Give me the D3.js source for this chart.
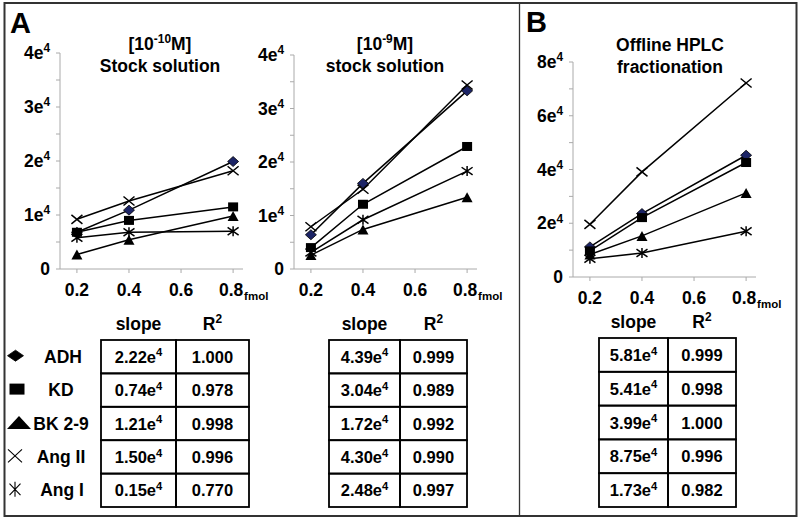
<!DOCTYPE html>
<html><head><meta charset="utf-8">
<script src="https://cdnjs.cloudflare.com/ajax/libs/d3/7.8.5/d3.min.js"></script>
<style>body{margin:0;background:#fff}svg{display:block}text{font-family:Arial,"Liberation Sans",sans-serif;font-weight:bold;fill:#000}</style>
</head><body>
<svg id="c" width="800" height="519"></svg>
<script>
// ---------- data ----------
const xValues = [0.2, 0.4, 0.8];
const xTicks = [0.2, 0.4, 0.6, 0.8];
const seriesNames = ["ADH", "KD", "BK 2-9", "Ang II", "Ang I"];
const seriesSymbols = ["diamond", "square", "triangle", "cross", "asterisk"];

// values in units of 1e4
const stock10ADH = [0.68, 1.09, 1.99];
const stock10KD = [0.68, 0.90, 1.15];
const stock10BK = [0.27, 0.54, 0.98];
const stock10AngII = [0.92, 1.26, 1.82];
const stock10AngI = [0.58, 0.68, 0.70];

const stock9ADH = [0.64, 1.60, 3.33];
const stock9KD = [0.40, 1.21, 2.29];
const stock9BK = [0.26, 0.74, 1.34];
const stock9AngII = [0.79, 1.49, 3.44];
const stock9AngI = [0.31, 0.92, 1.83];

const hplcADH = [1.12, 2.36, 4.53];
const hplcKD = [0.97, 2.21, 4.26];
const hplcBK = [0.84, 1.53, 3.13];
const hplcAngII = [1.96, 3.91, 7.22];
const hplcAngI = [0.68, 0.89, 1.70];

const ticksA = [0, 1, 2, 3, 4];
const ticksB = [0, 2, 4, 6, 8];

const slope10 = ["2.22", "0.74", "1.21", "1.50", "0.15"];
const r2_10 = ["1.000", "0.978", "0.998", "0.996", "0.770"];
const slope9 = ["4.39", "3.04", "1.72", "4.30", "2.48"];
const r2_9 = ["0.999", "0.989", "0.992", "0.990", "0.997"];
const slopeH = ["5.81", "5.41", "3.99", "8.75", "1.73"];
const r2_H = ["0.999", "0.998", "1.000", "0.996", "0.982"];

// ---------- drawing ----------
const svg = d3.select("#c");

svg.append("rect").attr("x", 4.5).attr("y", 3).attr("width", 792).attr("height", 513)
  .attr("fill", "none").attr("stroke", "#333").attr("stroke-width", 2);
svg.append("line").attr("x1", 519.5).attr("x2", 519.5).attr("y1", 3).attr("y2", 516)
  .attr("stroke", "#333").attr("stroke-width", 1.3);

svg.append("text").attr("x", 10).attr("y", 33).style("font-size", "29px").text("A");
svg.append("text").attr("x", 526).attr("y", 32).style("font-size", "29px").text("B");

function supText(g, base, sup, after, fs) {
  const t = g.append("text").style("font-size", fs + "px");
  t.append("tspan").text(base);
  t.append("tspan").attr("dy", -fs * 0.38).style("font-size", (fs * 0.68) + "px").text(sup);
  if (after) t.append("tspan").attr("dy", fs * 0.38).text(after);
  return t;
}

function symbol(g, type, cx, cy, w, h, fill, sw) {
  if (type === "diamond") {
    g.append("path").attr("d", `M${cx},${cy - h / 2}L${cx + w / 2},${cy}L${cx},${cy + h / 2}L${cx - w / 2},${cy}Z`)
      .attr("fill", fill).attr("stroke", "#000").attr("stroke-width", 0.8);
  } else if (type === "square") {
    g.append("rect").attr("x", cx - w / 2).attr("y", cy - h / 2).attr("width", w).attr("height", h).attr("fill", "#000");
  } else if (type === "triangle") {
    g.append("path").attr("d", `M${cx},${cy - h / 2}L${cx + w / 2},${cy + h / 2}L${cx - w / 2},${cy + h / 2}Z`).attr("fill", "#000");
  } else if (type === "cross") {
    g.append("path").attr("d", `M${cx - w / 2},${cy - h / 2}L${cx + w / 2},${cy + h / 2}M${cx - w / 2},${cy + h / 2}L${cx + w / 2},${cy - h / 2}`)
      .attr("stroke", "#000").attr("stroke-width", sw).attr("fill", "none");
  } else if (type === "asterisk") {
    g.append("path").attr("d", `M${cx - w / 2},${cy - h / 2.6}L${cx + w / 2},${cy + h / 2.6}M${cx - w / 2},${cy + h / 2.6}L${cx + w / 2},${cy - h / 2.6}M${cx},${cy - h / 2}L${cx},${cy + h / 2}`)
      .attr("stroke", "#000").attr("stroke-width", sw).attr("fill", "none");
  }
}

const markerW = {diamond: 11, square: 10, triangle: 11, cross: 11, asterisk: 11};
const markerH = {diamond: 10, square: 9, triangle: 10, cross: 9, asterisk: 10};

function chart(cfg) {
  const g = svg.append("g");
  const x = d3.scaleLinear().domain([0.135, 0.838]).range([cfg.left, cfg.left + 183]);
  const y = d3.scaleLinear().domain([0, cfg.ticks[cfg.ticks.length - 1]]).range([cfg.bottom, cfg.top]);
  const step = cfg.ticks[1] - cfg.ticks[0];
  const minor = d3.range(0, cfg.ticks[cfg.ticks.length - 1] + 1e-9, step / 2);
  g.append("line").attr("x1", cfg.left).attr("x2", cfg.left).attr("y1", y.range()[1]).attr("y2", y.range()[0])
    .attr("stroke", "#aaa").attr("stroke-width", 1);
  g.selectAll(".yt").data(minor).enter().append("line")
    .attr("x1", cfg.left - 4).attr("x2", cfg.left).attr("y1", d => y(d)).attr("y2", d => y(d))
    .attr("stroke", "#aaa");
  g.append("line").attr("x1", x.range()[0]).attr("x2", x.range()[1]).attr("y1", cfg.bottom).attr("y2", cfg.bottom)
    .attr("stroke", "#aaa");
  g.selectAll(".xt").data(xTicks).enter().append("line")
    .attr("x1", d => x(d)).attr("x2", d => x(d)).attr("y1", cfg.bottom).attr("y2", cfg.bottom + 4).attr("stroke", "#aaa");
  cfg.ticks.forEach(t => {
    let el;
    if (t === 0) el = g.append("text").style("font-size", "17.5px").text("0");
    else el = supText(g, t + "e", "4", null, 17.5);
    el.attr("x", cfg.left - 10).attr("y", y(t) + 6).attr("text-anchor", "end");
  });
  xTicks.forEach(t => {
    g.append("text").attr("x", x(t) - (t === 0.8 ? 2 : 0)).attr("y", cfg.bottom + 27).attr("text-anchor", "middle")
      .style("font-size", "17.5px").text(d3.format(".1f")(t));
    if (t === 0.8) {
      g.append("text").attr("x", x(t) + 11).attr("y", cfg.bottom + 31).style("font-size", "11.5px").text("fmol");
    }
  });
  const t1 = cfg.title1;
  if (Array.isArray(t1)) {
    supText(g, t1[0], t1[1], t1[2], 17.5).attr("x", cfg.titleX).attr("y", cfg.titleY).attr("text-anchor", "middle");
  } else {
    g.append("text").attr("x", cfg.titleX).attr("y", cfg.titleY).attr("text-anchor", "middle").style("font-size", "17.5px").text(t1);
  }
  g.append("text").attr("x", cfg.titleX).attr("y", cfg.titleY + 22).attr("text-anchor", "middle").style("font-size", "17.5px").text(cfg.title2);

  const line = d3.line().x((d, i) => x(xValues[i])).y(d => y(d));
  cfg.series.forEach(s => {
    g.append("path").attr("d", line(s)).attr("fill", "none").attr("stroke", "#000").attr("stroke-width", 1.5);
  });
  cfg.series.forEach((s, k) => {
    const ty = seriesSymbols[k];
    s.forEach((v, i) => symbol(g, ty, x(xValues[i]), y(v), markerW[ty], markerH[ty], "#1c2466", 1.5));
  });
}

chart({left: 60, top: 53, bottom: 269, ticks: ticksA, titleX: 160, titleY: 50,
  title1: ["[10", "-10", "M]"], title2: "Stock solution",
  series: [stock10ADH, stock10KD, stock10BK, stock10AngII, stock10AngI]});
chart({left: 294, top: 55, bottom: 269, ticks: ticksA, titleX: 385, titleY: 50,
  title1: ["[10", "-9", "M]"], title2: "stock solution",
  series: [stock9ADH, stock9KD, stock9BK, stock9AngII, stock9AngI]});
chart({left: 573, top: 62, bottom: 277, ticks: ticksB, titleX: 670, titleY: 51,
  title1: "Offline HPLC", title2: "fractionation",
  series: [hplcADH, hplcKD, hplcBK, hplcAngII, hplcAngI]});

function table(cfg) {
  const g = svg.append("g");
  const rowH = (cfg.bottom - cfg.top) / seriesNames.length;
  const yRow = d3.scaleLinear().domain([0, seriesNames.length]).range([cfg.top, cfg.bottom]);
  g.append("text").attr("x", (cfg.x0 + cfg.x1) / 2).attr("y", cfg.top - 10).attr("text-anchor", "middle").style("font-size", "17.5px").text("slope");
  supText(g, "R", "2", null, 17.5).attr("x", (cfg.x1 + cfg.x2) / 2).attr("y", cfg.top - 10).attr("text-anchor", "middle");
  d3.range(seriesNames.length).forEach(i => {
    g.append("rect").attr("x", cfg.x0).attr("y", yRow(i)).attr("width", cfg.x1 - cfg.x0).attr("height", rowH)
      .attr("fill", "none").attr("stroke", "#000").attr("stroke-width", 1.8);
    g.append("rect").attr("x", cfg.x1).attr("y", yRow(i)).attr("width", cfg.x2 - cfg.x1).attr("height", rowH)
      .attr("fill", "none").attr("stroke", "#000").attr("stroke-width", 1.8);
    supText(g, cfg.slope[i] + "e", "4", null, 16.5).attr("x", (cfg.x0 + cfg.x1) / 2).attr("y", yRow(i) + rowH / 2 + 6).attr("text-anchor", "middle");
    g.append("text").attr("x", (cfg.x1 + cfg.x2) / 2).attr("y", yRow(i) + rowH / 2 + 6).attr("text-anchor", "middle")
      .style("font-size", "16.5px").text(cfg.r2[i]);
  });
}

table({x0: 101, x1: 176, x2: 249, top: 340, bottom: 507, slope: slope10, r2: r2_10});
table({x0: 329, x1: 400, x2: 467, top: 340, bottom: 507, slope: slope9, r2: r2_9});
table({x0: 599, x1: 668, x2: 736, top: 338, bottom: 507, slope: slopeH, r2: r2_H});

// legend
const legRow = d3.scaleLinear().domain([0, seriesNames.length]).range([340, 507]);
const legSymX = [15.5, 17, 19, 15, 15];
const legSymW = [16, 15, 24, 14, 11];
const legSymH = [11, 11, 13, 13, 15];
const legTextX = [63, 61, 61, 61, 62];
seriesNames.forEach((n, i) => {
  const cy = legRow(i + 0.5);
  symbol(svg.append("g"), seriesSymbols[i], legSymX[i], cy - 1, legSymW[i], legSymH[i], "#000", 1.1);
  svg.append("text").attr("x", legTextX[i]).attr("y", cy + 6).attr("text-anchor", "middle").style("font-size", "17.5px").text(n);
});
</script>
</body></html>
